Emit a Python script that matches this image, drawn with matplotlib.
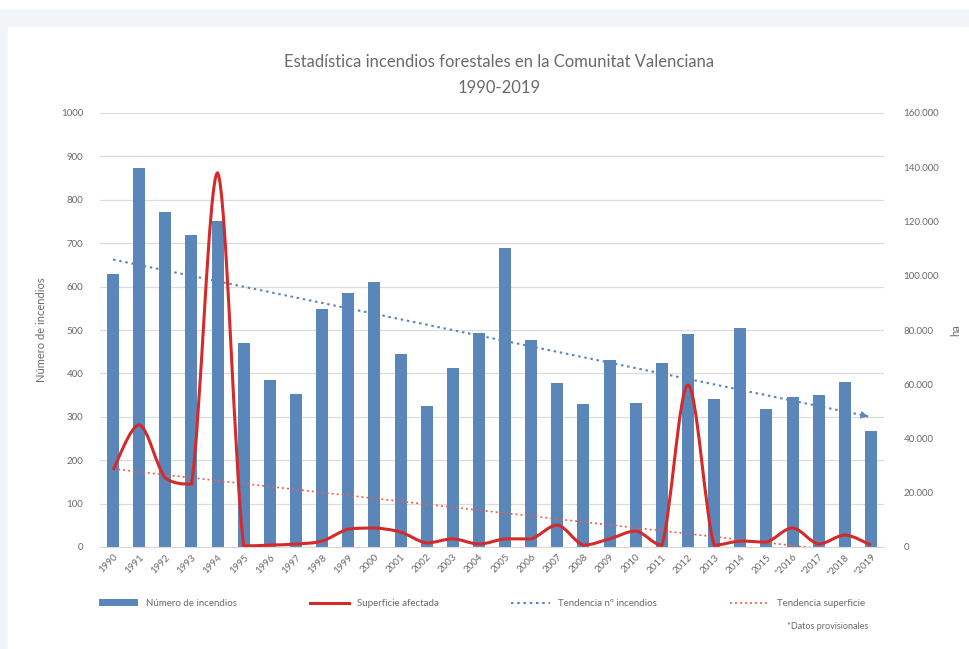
import matplotlib.pyplot as plt
import numpy as np
from matplotlib.patches import Rectangle
from matplotlib.path import Path
from matplotlib.patches import PathPatch
from matplotlib.ticker import FuncFormatter

plt.rcParams['font.family'] = ['Lato', 'DejaVu Sans']

years = ['1990', '1991', '1992', '1993', '1994', '1995', '1996', '1997', '1998', '1999',
         '2000', '2001', '2002', '2003', '2004', '2005', '2006', '2007', '2008', '2009',
         '2010', '2011', '2012', '2013', '2014', '2015', '*2016', '*2017', '*2018', '*2019']
incendios = [629, 873, 772, 719, 751, 470, 385, 353, 548, 585,
             611, 445, 325, 412, 493, 689, 477, 378, 329, 431,
             332, 424, 491, 341, 505, 318, 346, 350, 380, 267]
superficie = [28400, 45000, 25400, 23200, 137900, 400, 700, 1100, 2200, 6600,
              7000, 5500, 1500, 3000, 1100, 3000, 3000, 8100, 700, 3000,
              5900, 700, 59700, 700, 2200, 1800, 7000, 1100, 4400, 700]

bar_color = '#5b86ba'
red = '#d42a2a'
txt = '#6a6a6a'

fig = plt.figure(figsize=(9.7, 6.49), dpi=100)
fig.patch.set_facecolor('white')
fig.add_artist(Rectangle((0, 0), 1, 639/649, transform=fig.transFigure, color='#f2f5f8', zorder=-10))
fig.add_artist(Rectangle((8/970, 0), 1, 622/649, transform=fig.transFigure, color='white', zorder=-9))

ax = fig.add_axes([100/970, 102/649, 784/970, 434/649])
ax.set_facecolor('none')
x = np.arange(len(years))

ax.bar(x, incendios, width=0.46, color=bar_color, zorder=2, label='Número de incendios')
ax.set_xlim(-0.5, len(years) - 0.5)
ax.set_ylim(0, 1000)
ax.set_yticks(np.arange(0, 1001, 100))
ax.grid(axis='y', color='#dcdcdc', linewidth=0.9, zorder=0)
ax.set_xticks(x)
ax.set_xticklabels(years, rotation=45, ha='right', rotation_mode='anchor', fontsize=7, color=txt)
ax.tick_params(axis='y', labelsize=7, colors=txt, length=0, pad=12)
ax.tick_params(axis='x', length=0, pad=4)
for s in ax.spines.values():
    s.set_visible(False)
ax.spines['bottom'].set_visible(True)
ax.spines['bottom'].set_color('#d9d9d9')
ax.set_ylabel('Número de incendios', fontsize=8, color=txt, labelpad=10)

# blue trend line
c1 = np.polyfit(x, incendios, 1)
t1 = np.polyval(c1, x)
ax.plot(x, t1, linestyle=(0, (1.2, 1.8)), color='#5b86ba', linewidth=1.5, zorder=4,
        label='Tendencia nº incendios')
ax.annotate('', xy=(x[-1], t1[-1]), xytext=(x[-2] + 0.5, np.polyval(c1, x[-2] + 0.5)),
            arrowprops=dict(arrowstyle='-|>', color='#5b86ba', lw=0, mutation_scale=14), zorder=4)

ax2 = ax.twinx()
ax2.set_ylim(0, 160000)
ax2.set_yticks(np.arange(0, 160001, 20000))
ax2.yaxis.set_major_formatter(FuncFormatter(lambda v, p: f'{int(v):,}'.replace(',', '.')))
ax2.tick_params(axis='y', labelsize=7, colors=txt, length=0, pad=14)
for s in ax2.spines.values():
    s.set_visible(False)
ax2.set_ylabel('ha', fontsize=8, color=txt, labelpad=8)

# smoothed red line (bezier through the data points, no overshoot)
pts = np.column_stack([x, superficie]).astype(float)
verts = [pts[0]]
codes = [Path.MOVETO]
for i in range(len(pts) - 1):
    p0 = pts[i - 1] if i > 0 else pts[i]
    p1 = pts[i]
    p2 = pts[i + 1]
    p3 = pts[i + 2] if i + 2 < len(pts) else pts[i + 1]
    lo, hi = min(p1[1], p2[1]), max(p1[1], p2[1])
    a = p1 + (p2 - p0) / 6
    b = p2 - (p3 - p1) / 6
    a[1] = np.clip(a[1], lo, hi)
    b[1] = np.clip(b[1], lo, hi)
    verts += [a, b, p2]
    codes += [Path.CURVE4] * 3
ax2.add_patch(PathPatch(Path(verts, codes), facecolor='none', edgecolor=red, linewidth=2.2, zorder=5))
ax2.plot([], [], color=red, linewidth=2.2, label='Superficie afectada')

c2 = np.polyfit(x, superficie, 1)
ax2.plot(x, np.polyval(c2, x), linestyle=(0, (1.2, 1.8)), color='#e8624a', linewidth=1.2, zorder=4,
         label='Tendencia superficie')

fig.text(0.515, 0.905, 'Estadística incendios forestales en la Comunitat Valenciana',
         ha='center', va='center', fontsize=12, color=txt)
fig.text(0.515, 0.865, '1990-2019', ha='center', va='center', fontsize=12, color=txt)

h1, l1 = ax.get_legend_handles_labels()
h2, l2 = ax2.get_legend_handles_labels()
hh = h1 + h2
ll = l1 + l2
hh = [hh[1], hh[2], hh[0], hh[3]]
ll = [ll[1], ll[2], ll[0], ll[3]]
fig.legend(hh, ll, loc='center', bbox_to_anchor=(0.497, 0.07), ncol=4, frameon=False,
           fontsize=7, labelcolor=txt, columnspacing=7.5, handlelength=4)
fig.text(0.895, 0.035, '*Datos provisionales', ha='right', va='center', fontsize=6.5, color=txt)

fig.savefig('out.png', dpi=100)
